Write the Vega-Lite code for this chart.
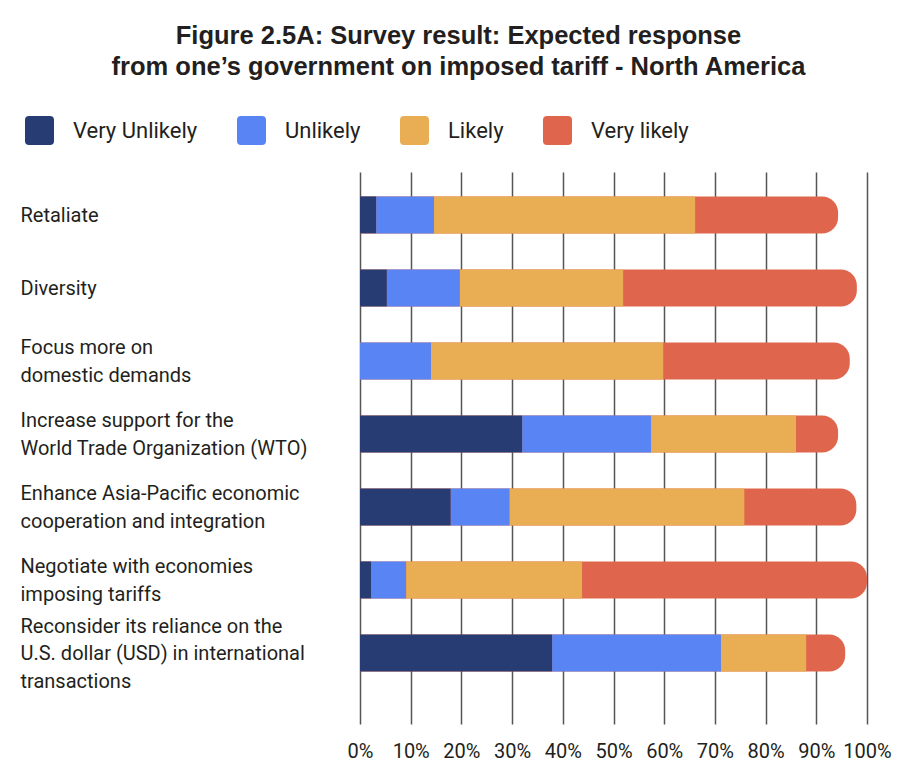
{
  "$schema": "https://vega.github.io/schema/vega-lite/v6.json",
  "width": 507,
  "height": 552,
  "autosize": {"type": "none"},
  "padding": {"left": 360, "top": 172, "right": 43, "bottom": 46},
  "background": "white",
  "title": {
    "text": ["Figure 2.5A: Survey result: Expected response", "from one’s government on imposed tariff - North America"],
    "font": "Liberation Sans",
    "fontSize": 25.5,
    "fontWeight": "bold",
    "color": "#231f20",
    "anchor": "middle",
    "frame": "group",
    "dx": -155,
    "lineHeight": 31,
    "offset": 36
  },
  "data": {
    "values": [
      {"q": "Retaliate", "r": "Very Unlikely", "v": 3.2},
      {"q": "Retaliate", "r": "Unlikely", "v": 11.4},
      {"q": "Retaliate", "r": "Likely", "v": 51.5},
      {"q": "Retaliate", "r": "Very likely", "v": 28.2},
      {"q": "Diversity", "r": "Very Unlikely", "v": 5.3},
      {"q": "Diversity", "r": "Unlikely", "v": 14.4},
      {"q": "Diversity", "r": "Likely", "v": 32.2},
      {"q": "Diversity", "r": "Very likely", "v": 46.1},
      {"q": "Focus more on|domestic demands", "r": "Very Unlikely", "v": 0},
      {"q": "Focus more on|domestic demands", "r": "Unlikely", "v": 14.0},
      {"q": "Focus more on|domestic demands", "r": "Likely", "v": 45.8},
      {"q": "Focus more on|domestic demands", "r": "Very likely", "v": 36.8},
      {"q": "Increase support for the|World Trade Organization (WTO)", "r": "Very Unlikely", "v": 32.0},
      {"q": "Increase support for the|World Trade Organization (WTO)", "r": "Unlikely", "v": 25.4},
      {"q": "Increase support for the|World Trade Organization (WTO)", "r": "Likely", "v": 28.6},
      {"q": "Increase support for the|World Trade Organization (WTO)", "r": "Very likely", "v": 8.3},
      {"q": "Enhance Asia-Pacific economic|cooperation and integration", "r": "Very Unlikely", "v": 17.9},
      {"q": "Enhance Asia-Pacific economic|cooperation and integration", "r": "Unlikely", "v": 11.6},
      {"q": "Enhance Asia-Pacific economic|cooperation and integration", "r": "Likely", "v": 46.3},
      {"q": "Enhance Asia-Pacific economic|cooperation and integration", "r": "Very likely", "v": 22.1},
      {"q": "Negotiate with economies|imposing tariffs", "r": "Very Unlikely", "v": 2.2},
      {"q": "Negotiate with economies|imposing tariffs", "r": "Unlikely", "v": 6.9},
      {"q": "Negotiate with economies|imposing tariffs", "r": "Likely", "v": 34.7},
      {"q": "Negotiate with economies|imposing tariffs", "r": "Very likely", "v": 56.2},
      {"q": "Reconsider its reliance on the|U.S. dollar (USD) in international|transactions", "r": "Very Unlikely", "v": 37.9},
      {"q": "Reconsider its reliance on the|U.S. dollar (USD) in international|transactions", "r": "Unlikely", "v": 33.3},
      {"q": "Reconsider its reliance on the|U.S. dollar (USD) in international|transactions", "r": "Likely", "v": 16.8},
      {"q": "Reconsider its reliance on the|U.S. dollar (USD) in international|transactions", "r": "Very likely", "v": 7.7}
    ]
  },
  "encoding": {
    "y": {
      "field": "q",
      "type": "nominal",
      "sort": ["Retaliate", "Diversity", "Focus more on|domestic demands", "Increase support for the|World Trade Organization (WTO)", "Enhance Asia-Pacific economic|cooperation and integration", "Negotiate with economies|imposing tariffs", "Reconsider its reliance on the|U.S. dollar (USD) in international|transactions"],
      "scale": {"paddingInner": 0.493, "paddingOuter": 0.527, "align": 0.317},
      "axis": {
        "title": null,
        "domain": false,
        "ticks": false,
        "grid": false,
        "labelAlign": "left",
        "labelBaseline": "middle",
        "labelPadding": 340,
        "labelFont": "Roboto",
        "labelFontSize": 20,
        "labelLineHeight": 27.5,
        "labelColor": "#231f20",
        "labelLimit": 400,
        "labelOffset": {
          "condition": [
            {"test": "length(split(datum.label, '|')) == 2", "value": -12.5},
            {"test": "length(split(datum.label, '|')) == 3", "value": -26}
          ],
          "value": 1.5
        },
        "labelExpr": "split(datum.label, '|')"
      }
    }
  },
  "layer": [
    {
      "mark": {"type": "bar", "cornerRadiusEnd": 16},
      "encoding": {
        "x": {
          "aggregate": "sum",
          "field": "v",
          "type": "quantitative",
          "stack": null,
          "scale": {"domain": [0, 100]},
          "axis": {
            "title": null,
            "values": [0, 10, 20, 30, 40, 50, 60, 70, 80, 90, 100],
            "labelExpr": "datum.value + '%'",
            "domain": false,
            "ticks": false,
            "grid": true,
            "gridColor": "#555555",
            "gridWidth": 1.5,
            "labelFont": "Roboto",
            "labelFontSize": 20,
            "labelColor": "#231f20",
            "labelPadding": 17,
            "labelFlush": false
          }
        },
        "color": {
          "datum": "Very likely",
          "type": "nominal",
          "scale": {
            "domain": ["Very Unlikely", "Unlikely", "Likely", "Very likely"],
            "range": ["#263c73", "#5984f4", "#e9ad53", "#df664d"]
          },
          "legend": {
            "title": null,
            "orient": "none",
            "direction": "horizontal",
            "legendX": -335,
            "legendY": -56,
            "symbolType": "M-0.72,-1L0.72,-1Q1,-1 1,-0.72L1,0.72Q1,1 0.72,1L-0.72,1Q-1,1 -1,0.72L-1,-0.72Q-1,-1 -0.72,-1Z",
            "symbolSize": 841,
            "symbolStrokeWidth": 0,
            "symbolOpacity": 1,
            "labelFont": "Roboto",
            "labelFontSize": 22,
            "labelColor": "#231f20",
            "labelOffset": 19,
            "columnPadding": 39,
            "labelLimit": 300
          }
        }
      }
    },
    {
      "transform": [{"filter": "datum.r !== 'Very likely'"}],
      "mark": {"type": "bar"},
      "encoding": {
        "x": {"field": "v", "type": "quantitative", "stack": "zero"},
        "order": {"field": "r", "sort": "descending"},
        "color": {
          "field": "r",
          "type": "nominal",
          "legend": {"title": null}
        }
      }
    }
  ],
  "config": {"view": {"stroke": null}, "legend": {"title": null}}
}
